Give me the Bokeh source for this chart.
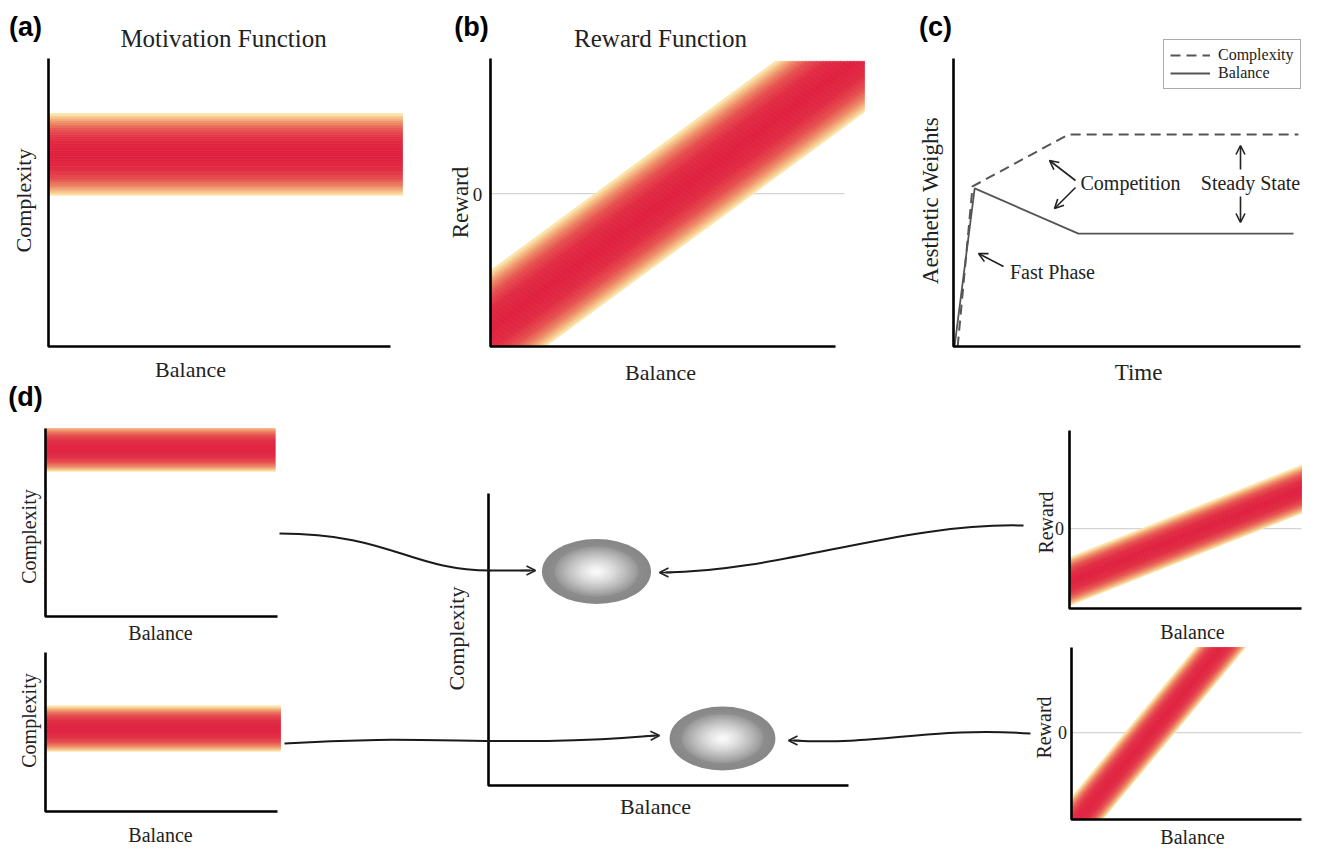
import numpy as np
from bokeh.plotting import figure
from bokeh.models import Range1d, Label, Arrow, OpenHead, Legend, LegendItem
from bokeh.embed import file_html
from bokeh.resources import INLINE

# ---------------- data (normalized units within each panel) ----------------
# (a) motivation function: horizontal band in complexity
motivation_center = 0.667
motivation_halfwidth = 0.142
motivation_extent = [0.0, 1.035]

# (b) reward function: diagonal band  reward = intercept + slope*balance
reward_b_intercept = 0.062
reward_b_slope = 0.88
reward_b_halfwidth = 0.202
reward_b_extent = [0.0, 1.084]
reward_b_zero = 0.531

# (c) aesthetic weights over time
time_complexity = [0.012, 0.055, 0.331, 0.994]
weight_complexity = [0.0, 0.556, 0.736, 0.736]
time_balance = [0.003, 0.061, 0.360, 0.980]
weight_balance = [0.0, 0.549, 0.392, 0.392]

# (d) small motivation functions
motivation_d1_center = 0.894
motivation_d1_halfwidth = 0.122
motivation_d1_extent = [0.0, 0.99]
motivation_d2_center = 0.522
motivation_d2_halfwidth = 0.143
motivation_d2_extent = [0.0, 1.013]

# (d) small reward functions
reward_d3_intercept = 0.152
reward_d3_slope = 0.518
reward_d3_halfwidth = 0.135
reward_d3_extent = [0.0, 1.0]
reward_d3_zero = 0.449
reward_d4_intercept = -0.044
reward_d4_slope = 1.61
reward_d4_halfwidth = 0.174
reward_d4_extent = [0.0, 0.80]
reward_d4_zero = 0.505

# (d) optimum points (balance, complexity) and their spread
optimum_balance = [0.30, 0.65]
optimum_complexity = [0.733, 0.161]
optimum_width = [0.303, 0.294]
optimum_height = [0.223, 0.219]

SERIF = "Liberation Serif"
SANS = "Liberation Sans"

# ---------------- helpers ----------------
stops = [(0.0, "#DF1E3E"), (0.35, "#E12A42"), (0.6, "#E6504F"),
         (0.78, "#EE8A66"), (0.92, "#F7C98E"), (1.0, "#FDEEB6")]


def hex2rgb(h):
    return np.array([int(h[i:i + 2], 16) for i in (1, 3, 5)], dtype=float)


def band_color(t):
    t = min(max(t, 0.0), 1.0)
    for (t0, c0), (t1, c1) in zip(stops[:-1], stops[1:]):
        if t <= t1:
            f = (t - t0) / (t1 - t0)
            c = hex2rgb(c0) * (1 - f) + hex2rgb(c1) * f
            return "#%02x%02x%02x" % tuple(int(round(v)) for v in c)
    return stops[-1][1]


def clip(xs, ys, a, b, c):
    ox, oy = [], []
    n = len(xs)
    for i in range(n):
        x1, y1 = xs[i], ys[i]
        x2, y2 = xs[(i + 1) % n], ys[(i + 1) % n]
        f1 = a * x1 + b * y1 - c
        f2 = a * x2 + b * y2 - c
        if f1 <= 0:
            ox.append(x1); oy.append(y1)
        if f1 * f2 < 0:
            t = f1 / (f1 - f2)
            ox.append(x1 + t * (x2 - x1)); oy.append(y1 + t * (y2 - y1))
    return ox, oy


def draw_band(g, intercept, slope, hw, extent, lo=0.0, hi=0.995, n=46):
    xs_all, ys_all, cols = [], [], []
    edges = np.linspace(-hw, hw, n + 1)
    for s0, s1 in zip(edges[:-1], edges[1:]):
        xs = [extent[0], extent[1], extent[1], extent[0]]
        ys = [lo, lo, hi, hi]
        xs, ys = clip(xs, ys, -slope, 1.0, intercept + s1)
        xs, ys = clip(xs, ys, slope, -1.0, -(intercept + s0))
        if len(xs) < 3:
            continue
        xs_all.append(xs); ys_all.append(ys)
        cols.append(band_color(abs(0.5 * (s0 + s1)) / hw))
    g.patches(xs=xs_all, ys=ys_all, fill_color=cols, line_color=cols, line_width=0.7)


def axes_L(g, top=1.0, right=1.0):
    g.line(x=[0, 0, right], y=[top, 0, 0], line_color="black", line_width=2.6)


# ---------------- canvas ----------------
W, H = 1304, 847
p = figure(width=W, height=H, x_range=Range1d(0, W), y_range=Range1d(H, 0),
           output_backend="svg", toolbar_location=None, min_border=0,
           x_axis_type=None, y_axis_type=None)
p.grid.visible = False
p.outline_line_color = None
p.background_fill_color = "white"
p.border_fill_color = "white"


def panel(x0, x1, ybot, ytop):
    return p.subplot(x_source=Range1d(0, 1), y_source=Range1d(0, 1),
                     x_target=Range1d(x0, x1), y_target=Range1d(ybot, ytop))


def label(x, y, text, size, font=SERIF, angle=0.0, style="normal", color="#222222"):
    p.add_layout(Label(x=x, y=y, text=text, text_font=font, text_font_size=f"{size}px",
                       text_font_style=style, text_align="center", text_baseline="middle",
                       angle=angle, text_color=color))


def arrow(x0, y0, x1, y1, size=9, width=1.6):
    p.add_layout(Arrow(x_start=x0, y_start=y0, x_end=x1, y_end=y1, line_width=width,
                       line_color="#222222",
                       end=OpenHead(size=size, line_width=width, line_color="#222222")))


# (a)
ga = panel(48, 390, 346, 58)
draw_band(ga, motivation_center, 0.0, motivation_halfwidth, motivation_extent, lo=0.0, hi=1.0)
axes_L(ga)

# (b)
gb = panel(490, 835, 346, 58)
gb.line(x=[0, 1.026], y=[reward_b_zero, reward_b_zero], line_color="#d4d4d4", line_width=1.2)
draw_band(gb, reward_b_intercept, reward_b_slope, reward_b_halfwidth, reward_b_extent, lo=0.0, hi=0.99)
axes_L(gb)

# (c)
gc = panel(953, 1300, 346, 58)
r_cx = gc.line(x=time_complexity, y=weight_complexity, line_color="#555555", line_width=2.0,
               line_dash="10 6")
r_bal = gc.line(x=time_balance, y=weight_balance, line_color="#555555", line_width=1.8)
axes_L(gc)

legend = Legend(items=[LegendItem(label="Complexity", renderers=[r_cx]),
                       LegendItem(label="Balance", renderers=[r_bal])],
                location=(1163, 758), margin=0, padding=6, spacing=0,
                glyph_width=40, glyph_height=16, label_height=16, label_standoff=8,
                label_text_font=SERIF, label_text_font_size="16px",
                label_text_color="#222222",
                border_line_color="#555555", border_line_width=1.2,
                background_fill_alpha=1.0)
p.add_layout(legend)

# (d1)
gd1 = panel(45, 277, 616, 428)
draw_band(gd1, motivation_d1_center, 0.0, motivation_d1_halfwidth, motivation_d1_extent, lo=0.0, hi=1.02)
axes_L(gd1)

# (d2)
gd2 = panel(45, 277, 811, 652)
draw_band(gd2, motivation_d2_center, 0.0, motivation_d2_halfwidth, motivation_d2_extent, lo=0.0, hi=1.0)
axes_L(gd2)

# (d) centre: optimum locations
gm = panel(488, 848, 785, 493)
levels = np.linspace(1.0, 0.04, 30)
for s in levels:
    if s > 0.8:
        gv = 136 + (1.0 - s) * 30
    else:
        gv = 252 - 104 * (s / 0.8) ** 1.3
    col = "#%02x%02x%02x" % (int(gv), int(gv), int(gv))
    gm.ellipse(x=optimum_balance, y=optimum_complexity,
               width=[w * s for w in optimum_width], height=[h * s for h in optimum_height],
               fill_color=col, line_color=None)
axes_L(gm)

# (d3)
gd3 = panel(1069, 1301, 608, 430)
gd3.line(x=[0, 1.0], y=[reward_d3_zero, reward_d3_zero], line_color="#d4d4d4", line_width=1.2)
draw_band(gd3, reward_d3_intercept, reward_d3_slope, reward_d3_halfwidth, reward_d3_extent, lo=0.0, hi=1.0)
axes_L(gd3)

# (d4)
gd4 = panel(1071, 1301, 819, 647)
gd4.line(x=[0, 1.0], y=[reward_d4_zero, reward_d4_zero], line_color="#d4d4d4", line_width=1.2)
draw_band(gd4, reward_d4_intercept, reward_d4_slope, reward_d4_halfwidth, reward_d4_extent, lo=0.0, hi=1.0)
axes_L(gd4)

# connecting curved arrows
p.bezier(x0=[279, 1023, 284, 1030], y0=[533, 525, 743, 733],
         x1=[490, 665, 655, 793], y1=[570, 572, 735, 740],
         cx0=[390, 900, 430, 930], cy0=[533, 522, 733, 726],
         cx1=[410, 780, 500, 880], cy1=[570, 571, 748, 745],
         line_color="#1a1a1a", line_width=2.0)
p.line(x=[488, 530], y=[570, 570], line_color="#1a1a1a", line_width=2.0)
arrow(520, 570, 535, 570)
arrow(672, 572, 659, 572)
arrow(645, 735.5, 659, 735)
arrow(800, 740, 788, 740)

# panel (c) annotations
arrow(1075, 180, 1049, 160)
arrow(1075, 187, 1054, 208)
arrow(1240, 169, 1240, 145)
arrow(1240, 196, 1240, 222)
arrow(1003, 266, 978, 253)
label(1130, 182, "Competition", 20)
label(1250, 182, "Steady State", 20)
label(1052, 271, "Fast Phase", 20)

# texts
label(25, 26, "(a)", 27, font=SANS, style="bold", color="black")
label(471, 26, "(b)", 27, font=SANS, style="bold", color="black")
label(935, 26, "(c)", 27, font=SANS, style="bold", color="black")
label(25, 396, "(d)", 27, font=SANS, style="bold", color="black")

label(223, 38, "Motivation Function", 25)
label(660, 38, "Reward Function", 25)

label(23, 200, "Complexity", 22, angle=np.pi / 2)
label(190, 369, "Balance", 22)
label(460, 202, "Reward", 23, angle=np.pi / 2)
label(660, 372, "Balance", 22)
label(477, 194, "0", 19)
label(930, 200, "Aesthetic Weights", 23, angle=np.pi / 2)
label(1138, 372, "Time", 23)

label(28, 536, "Complexity", 20, angle=np.pi / 2)
label(160, 632, "Balance", 20)
label(28, 720, "Complexity", 20, angle=np.pi / 2)
label(160, 834, "Balance", 20)

label(456, 638, "Complexity", 22, angle=np.pi / 2)
label(655, 806, "Balance", 22)

label(1045, 522, "Reward", 20, angle=np.pi / 2)
label(1059, 528, "0", 18)
label(1192, 631, "Balance", 20)
label(1043, 727, "Reward", 20, angle=np.pi / 2)
label(1062, 732, "0", 18)
label(1192, 836, "Balance", 20)

open("out.html", "w").write(file_html(p, INLINE))
